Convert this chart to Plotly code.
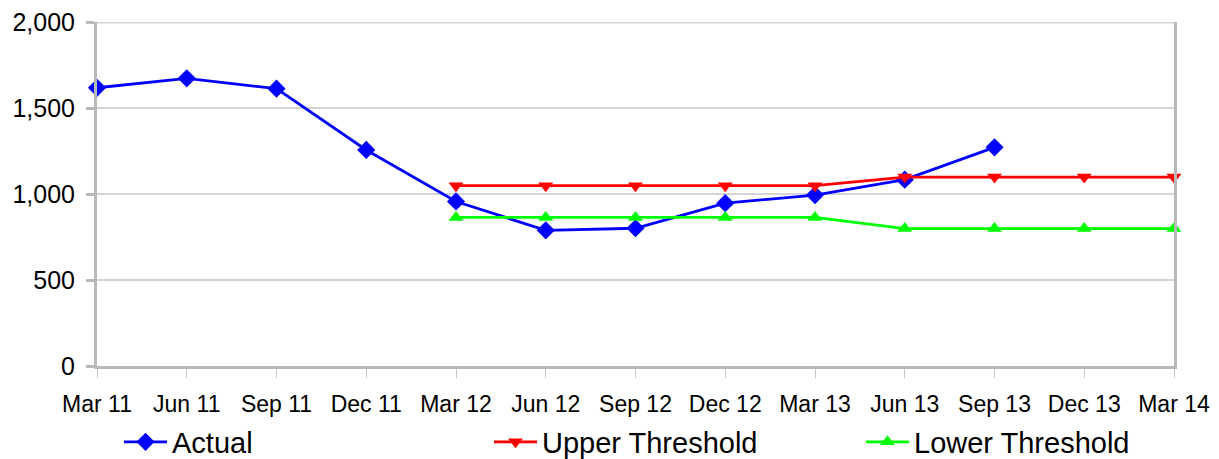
import plotly.graph_objects as go

categories = ["Mar 11", "Jun 11", "Sep 11", "Dec 11", "Mar 12", "Jun 12", "Sep 12",
              "Dec 12", "Mar 13", "Jun 13", "Sep 13", "Dec 13", "Mar 14"]
actual = [1620, 1675, 1615, 1258, 958, 790, 802, 948, 995, 1085, 1273, None, None]
upper = [None, None, None, None, 1050, 1050, 1050, 1050, 1050, 1100, 1100, 1100, 1100]
lower = [None, None, None, None, 865, 865, 865, 865, 865, 800, 800, 800, 800]
y_ticks = [0, 500, 1000, 1500, 2000]
y_labels = ["0", "500", "1,000", "1,500", "2,000"]

xs = list(range(len(categories)))
font = "Liberation Sans, Arial, sans-serif"
grid_color = "#d4d4d4"

fig = go.Figure()
fig.add_trace(go.Scatter(x=xs, y=actual, name="Actual", mode="lines+markers",
                         line=dict(color="#0000FF", width=2.8), cliponaxis=False,
                         marker=dict(symbol="diamond", size=14, color="#0000FF"),
                         legend="legend"))
fig.add_trace(go.Scatter(x=xs, y=upper, name="Upper Threshold", mode="lines+markers",
                         line=dict(color="#FF0000", width=2.8), cliponaxis=False,
                         marker=dict(symbol="triangle-down", size=13, color="#FF0000"),
                         legend="legend2"))
fig.add_trace(go.Scatter(x=xs, y=lower, name="Lower Threshold", mode="lines+markers",
                         line=dict(color="#00FF00", width=2.8), cliponaxis=False,
                         marker=dict(symbol="triangle-up", size=13, color="#00FF00"),
                         legend="legend3"))

# top gridline at the last tick value (Plotly drops grid lines at the range edge)
fig.add_shape(type="line", xref="paper", x0=0, x1=1, yref="y",
              y0=y_ticks[-1], y1=y_ticks[-1], layer="below",
              line=dict(color=grid_color, width=2))

# page body has an 8px margin, so the figure is drawn 8px in from the top-left
W, H = 1211, 451
ml, mr, mt, mb = 89, 45, 14, 93
pw = W - ml - mr


def leg(win_x):
    fig_x = win_x - 8 - 6
    return dict(orientation="h", x=(fig_x - ml) / pw, xanchor="left", xref="paper",
                y=1 - (442 - 8) / H, yref="container", yanchor="middle",
                font=dict(size=29, family=font), itemwidth=43,
                bgcolor="rgba(0,0,0,0)", borderwidth=0)


fig.update_layout(
    width=W, height=H,
    margin=dict(l=ml, r=mr, t=mt, b=mb, autoexpand=False),
    paper_bgcolor="white", plot_bgcolor="white",
    font=dict(family=font, color="black"),
    showlegend=True,
    legend=leg(125),
    legend2=leg(495),
    legend3=leg(867),
    xaxis=dict(range=[0, 12], tickvals=xs, ticktext=categories, showgrid=False,
               zeroline=False, showline=True, linecolor="#b8b8b8", linewidth=3,
               ticks="outside", ticklen=9, tickcolor="#c8c8c8", tickwidth=1,
               ticklabelstandoff=6, automargin=False,
               tickfont=dict(size=23, family=font)),
    yaxis=dict(range=[0, 2003], tickvals=y_ticks, ticktext=y_labels, showgrid=True,
               gridcolor=grid_color, gridwidth=2, zeroline=False, showline=True,
               mirror=True, linecolor="#b8b8b8", linewidth=3, ticks="outside",
               ticklen=8, tickcolor="#b8b8b8", tickwidth=3, automargin=False,
               ticklabelstandoff=6,
               tickfont=dict(size=25, family=font)),
)

fig.write_html("out.html")
